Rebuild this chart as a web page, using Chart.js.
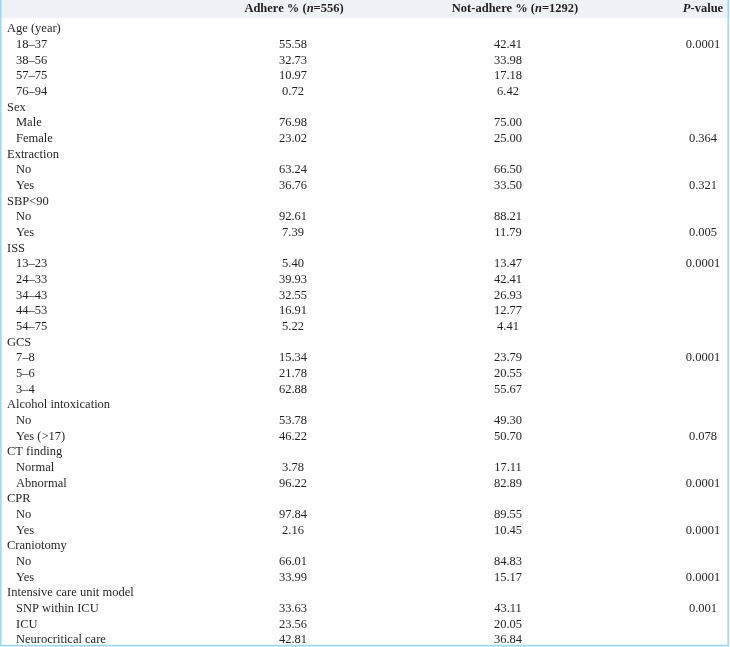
<!DOCTYPE html>
<html>
<head>
<meta charset="utf-8">
<script src="https://cdn.jsdelivr.net/npm/chart.js@4/dist/chart.umd.min.js"></script>
<style>
  html, body { margin: 0; padding: 0; background: #fff; }
  #wrap { width: 730px; height: 647px; position: relative; }
</style>
</head>
<body>
<div id="wrap"><canvas id="tableChart"></canvas></div>
<script>
// table data
const rowLabels = [
    'Age (year)', '18–37', '38–56', '57–75', '76–94',
    'Sex', 'Male', 'Female',
    'Extraction', 'No', 'Yes',
    'SBP<90', 'No', 'Yes',
    'ISS', '13–23', '24–33', '34–43', '44–53', '54–75',
    'GCS', '7–8', '5–6', '3–4',
    'Alcohol intoxication', 'No', 'Yes (>17)',
    'CT finding', 'Normal', 'Abnormal',
    'CPR', 'No', 'Yes',
    'Craniotomy', 'No', 'Yes',
    'Intensive care unit model', 'SNP within ICU', 'ICU', 'Neurocritical care'
];
const groupRows = [0, 5, 8, 11, 14, 20, 24, 27, 30, 33, 36];

const adhere = [
    null, 55.58, 32.73, 10.97, 0.72,
    null, 76.98, 23.02,
    null, 63.24, 36.76,
    null, 92.61, 7.39,
    null, 5.40, 39.93, 32.55, 16.91, 5.22,
    null, 15.34, 21.78, 62.88,
    null, 53.78, 46.22,
    null, 3.78, 96.22,
    null, 97.84, 2.16,
    null, 66.01, 33.99,
    null, 33.63, 23.56, 42.81
];
const notAdhere = [
    null, 42.41, 33.98, 17.18, 6.42,
    null, 75.00, 25.00,
    null, 66.50, 33.50,
    null, 88.21, 11.79,
    null, 13.47, 42.41, 26.93, 12.77, 4.41,
    null, 23.79, 20.55, 55.67,
    null, 49.30, 50.70,
    null, 17.11, 82.89,
    null, 89.55, 10.45,
    null, 84.83, 15.17,
    null, 43.11, 20.05, 36.84
];
const pValues = [
    null, '0.0001', null, null, null,
    null, null, '0.364',
    null, null, '0.321',
    null, null, '0.005',
    null, '0.0001', null, null, null, null,
    null, '0.0001', null, null,
    null, null, '0.078',
    null, null, '0.0001',
    null, null, '0.0001',
    null, null, '0.0001',
    null, '0.001', null, null
];
// *...* marks italic
const columnTitles = ['Adhere % (*n*=556)', 'Not-adhere % (*n*=1292)', '*P*-value'];

// layout (x in pixel-like units of the hidden x scale)
const COL_X = [293, 508, 703];
const HEAD_X = [294, 515, 703];
const LABEL_X = 7, INDENT_X = 16;
const FONT = '"Liberation Serif", "Times New Roman", serif';
const TEXT = '#231f20';
const sources = [adhere, notAdhere, pValues];

function drawRuns(ctx, text, cx, cy) {
    const parts = text.split('*');
    const runs = parts.map((t, i) => ({ t: t, font: (i % 2 ? 'italic bold ' : 'bold ') + '12.5px ' + FONT }));
    let total = 0;
    runs.forEach(r => { ctx.font = r.font; r.w = ctx.measureText(r.t).width; total += r.w; });
    let x = cx - total / 2;
    ctx.textAlign = 'left';
    runs.forEach(r => { ctx.font = r.font; ctx.fillText(r.t, x, cy); x += r.w; });
}

const tablePlugin = {
    id: 'tableText',
    beforeDatasetsDraw(chart) {
        const ctx = chart.ctx;
        const y = chart.scales.y;
        ctx.save();
        ctx.fillStyle = '#eef2f6';
        ctx.fillRect(0, 0, chart.width, y.getPixelForValue(-0.7));
        ctx.restore();
    },
    afterDraw(chart) {
        const ctx = chart.ctx;
        const xs = chart.scales.x, ys = chart.scales.y;
        ctx.save();
        ctx.fillStyle = TEXT;
        ctx.textBaseline = 'middle';

        // header
        columnTitles.forEach((t, i) => drawRuns(ctx, t, xs.getPixelForValue(HEAD_X[i]), ys.getPixelForValue(-1.28)));

        // row labels
        ctx.font = '12.5px ' + FONT;
        ctx.textAlign = 'left';
        rowLabels.forEach((lab, i) => {
            const lx = groupRows.includes(i) ? LABEL_X : INDENT_X;
            ctx.fillText(lab, xs.getPixelForValue(lx), ys.getPixelForValue(i));
        });

        // cells, placed at the scatter elements
        ctx.textAlign = 'center';
        chart.data.datasets.forEach((ds, d) => {
            const meta = chart.getDatasetMeta(d);
            meta.data.forEach((el, i) => {
                const v = sources[d][i];
                if (v == null) return;
                const s = typeof v === 'number' ? v.toFixed(2) : v;
                ctx.fillText(s, el.x, el.y);
            });
        });

        // frame
        ctx.strokeStyle = '#9fd8f2';
        ctx.lineWidth = 1.6;
        ctx.beginPath();
        ctx.moveTo(0.8, 0);
        ctx.lineTo(0.8, 645.6);
        ctx.lineTo(728.2, 645.6);
        ctx.lineTo(728.2, 0);
        ctx.stroke();
        ctx.restore();
    }
};

const datasets = sources.map((vals, d) => ({
    label: ['Adhere', 'Not-adhere', 'P-value'][d],
    data: rowLabels.map((_, i) => ({ x: COL_X[d], y: i })),
    pointRadius: 0,
    showLine: false
}));

new Chart(document.getElementById('tableChart').getContext('2d'), {
    type: 'scatter',
    data: { datasets: datasets },
    options: {
        responsive: true,
        maintainAspectRatio: false,
        animation: false,
        events: [],
        layout: { padding: 0 },
        plugins: { legend: { display: false }, tooltip: { enabled: false } },
        scales: {
            x: { type: 'linear', min: 0, max: 730, display: false },
            y: { type: 'linear', min: -1.851, max: 39.45, reverse: true, display: false }
        }
    },
    plugins: [tablePlugin]
});
</script>
</body>
</html>
